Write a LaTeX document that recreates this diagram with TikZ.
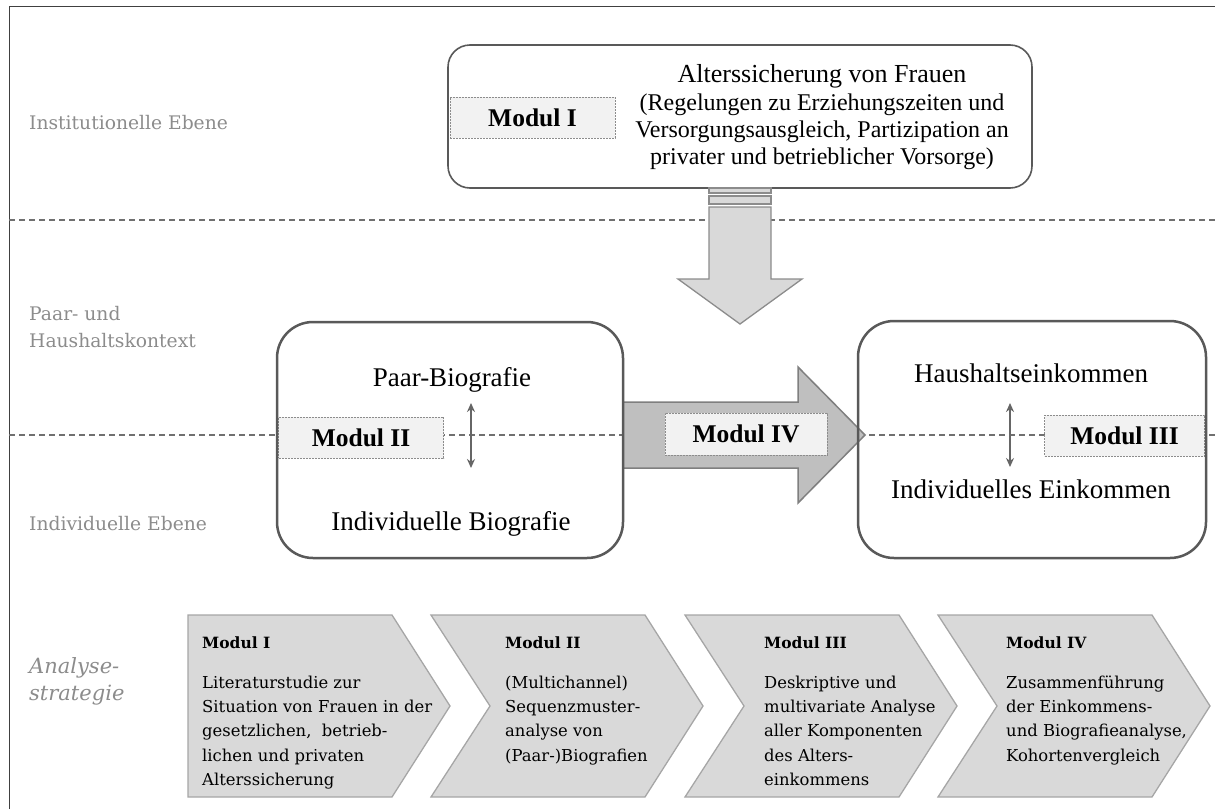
\documentclass[tikz,border=0pt]{standalone}
\usepackage{fontspec}
\setmainfont{Liberation Serif}
\newfontfamily\dvs{DejaVu Serif}
\usetikzlibrary{arrows.meta}
\definecolor{framec}{HTML}{404040}
\definecolor{dashc}{HTML}{707070}
\definecolor{boxc}{HTML}{595959}
\definecolor{lblc}{HTML}{8C8C8C}
\definecolor{modfill}{HTML}{F2F2F2}
\definecolor{modline}{HTML}{8C8C8C}
\definecolor{varfill}{HTML}{D9D9D9}
\definecolor{varline}{HTML}{8C8C8C}
\definecolor{harfill}{HTML}{BFBFBF}
\definecolor{harline}{HTML}{7F7F7F}
\definecolor{chevfill}{HTML}{D9D9D9}
\definecolor{chevline}{HTML}{A6A6A6}
\definecolor{dblc}{HTML}{666666}
\begin{document}
\begin{tikzpicture}[x=1pt,y=-1pt,
  level/.style={draw=dashc,line width=1.4pt,dash pattern=on 6pt off 4pt},
  topbox/.style={draw=boxc,line width=1.6pt,rounded corners=22pt,fill=white,inner sep=0pt,outer sep=0pt},
  ibox/.style={fill=white,inner sep=0pt,outer sep=0pt},
  iborder/.style={draw=boxc,line width=2.5pt,rounded corners=36pt},
  modbox/.style={draw=modline,fill=modfill,line width=0.7pt,dash pattern=on 2pt off 1pt,inner sep=0pt,font=\fontsize{25.5}{28}\selectfont\bfseries},
  lbl/.style={text=lblc,inner sep=0pt,anchor=base west,font=\dvs\fontsize{18.7}{27}\selectfont},
  itxt/.style={inner sep=0pt,anchor=base,font=\fontsize{27}{32}\selectfont},
  dbl/.style={draw=dblc,line width=2.3pt,{Stealth[length=9pt,width=8pt]}-{Stealth[length=9pt,width=8pt]}},
  varrow/.style={draw=varline,fill=varfill,line width=1.3pt},
  harrow/.style={draw=harline,fill=harfill,line width=1.5pt},
  chev/.style={draw=chevline,fill=chevfill,line width=1.3pt},
  chevtitle/.style={inner sep=0pt,anchor=base west,font=\dvs\fontsize{15.5}{20}\selectfont\bfseries},
  chevbody/.style={inner sep=0pt,anchor=north west,align=left,font=\dvs\fontsize{16.4}{24.3}\selectfont},
]
\useasboundingbox (0,0) rectangle (1215,809);
% frame
\draw[framec,line width=1pt] (9,809) -- (9,6) -- (1215,6);
% boxes (fill)
\node[topbox,minimum width=584pt,minimum height=143pt] (inst) at (740,116.5) {};
\node[ibox,minimum width=346pt,minimum height=236pt] (lbox) at (450,440) {};
\node[ibox,minimum width=348pt,minimum height=237pt] (rbox) at (1032,439.5) {};
% level lines
\draw[level] (9,220) -- (1215,220);
\draw[level] (9,435) -- (1215,435);
% vertical arrow
\draw[varrow] (709,188) rectangle (771,193);
\draw[varrow] (709,196) rectangle (771,204);
\draw[varrow] (709,207) -- (771,207) -- (771,279) -- (802,279) -- (740,324) -- (678,279) -- (709,279) -- cycle;
% horizontal arrow
\draw[harrow] (623,402) -- (798,402) -- (798,367) -- (865,435) -- (798,503) -- (798,468) -- (623,468) -- cycle;
% modul boxes
\node[modbox,minimum width=165pt,minimum height=41pt] (m1) at (532.5,117.5) {Modul I};
\node[modbox,minimum width=165pt,minimum height=41pt] (m2) at (361,437.5) {Modul II};
\node[modbox,minimum width=162pt,minimum height=42pt] (m4) at (746,434) {Modul IV};
\node[modbox,minimum width=160pt,minimum height=41pt] (m3) at (1124.5,435.5) {Modul III};
% box borders
\draw[iborder] (lbox.north west) rectangle (lbox.south east);
\draw[iborder] (rbox.north west) rectangle (rbox.south east);
% top box text
\node[inner sep=0pt,anchor=base,font=\fontsize{26}{30}\selectfont] (t1) at (822,82) {Alterssicherung von Frauen};
\node[inner sep=0pt,anchor=north,align=center,font=\fontsize{24}{27.2}\selectfont] (t2) at (822,91) {\strut(Regelungen zu Erziehungszeiten und\\Versorgungsausgleich, Partizipation an\\privater und betrieblicher Vorsorge)};
% inner texts
\node[itxt] (pb) at (452,386) {Paar-Biografie};
\node[itxt] (ib) at (451,530) {Individuelle Biografie};
\node[itxt] (he) at (1031,382) {Haushaltseinkommen};
\node[itxt] (ie) at (1031,498) {Individuelles Einkommen};
\coordinate (d1t) at (471,403); \coordinate (d1b) at (471,468);
\coordinate (d2t) at (1010,403); \coordinate (d2b) at (1010,467);
\draw[dbl] (d1t) -- (d1b);
\draw[dbl] (d2t) -- (d2b);
% level labels
\node[lbl] (l1) at (29,129) {Institutionelle Ebene};
\node[lbl,anchor=north west,align=left] (l2) at (29,301.1) {\strut Paar- und\\Haushaltskontext};
\node[lbl] (l3) at (29,530) {Individuelle Ebene};
\node[inner sep=0pt,anchor=north west,align=left,text=lblc,font=\dvs\fontsize{21}{27}\selectfont\itshape] (l4) at (29,654.1) {\strut Analyse-\\strategie};
% chevrons
\draw[chev] (188,615) -- (392,615) -- (450,706) -- (392,797) -- (188,797) -- cycle;
\draw[chev] (431,615) -- (645,615) -- (703,706) -- (645,797) -- (431,797) -- (490,706) -- cycle;
\draw[chev] (685,615) -- (899,615) -- (957,706) -- (899,797) -- (685,797) -- (744,706) -- cycle;
\draw[chev] (938,615) -- (1152,615) -- (1210,706) -- (1152,797) -- (938,797) -- (997,706) -- cycle;
\node[chevtitle] (c1t) at (202,648) {Modul I};
\node[chevtitle] (c2t) at (505,648) {Modul II};
\node[chevtitle] (c3t) at (764,648) {Modul III};
\node[chevtitle] (c4t) at (1006,648) {Modul IV};
\node[chevbody] (c1b) at (202,671) {\strut Literaturstudie zur\\Situation von Frauen in der\\gesetzlichen,\ \ betrieb-\\lichen und privaten\\Alterssicherung};
\node[chevbody] (c2b) at (505,671) {\strut (Multichannel)\\Sequenzmuster-\\analyse von\\(Paar-)Biografien};
\node[chevbody] (c3b) at (764,671) {\strut Deskriptive und\\multivariate Analyse\\aller Komponenten\\des Alters-\\einkommens};
\node[chevbody] (c4b) at (1006,671) {\strut Zusammenführung\\der Einkommens-\\und Biografieanalyse,\\Kohortenvergleich};
\end{tikzpicture}
\end{document}
